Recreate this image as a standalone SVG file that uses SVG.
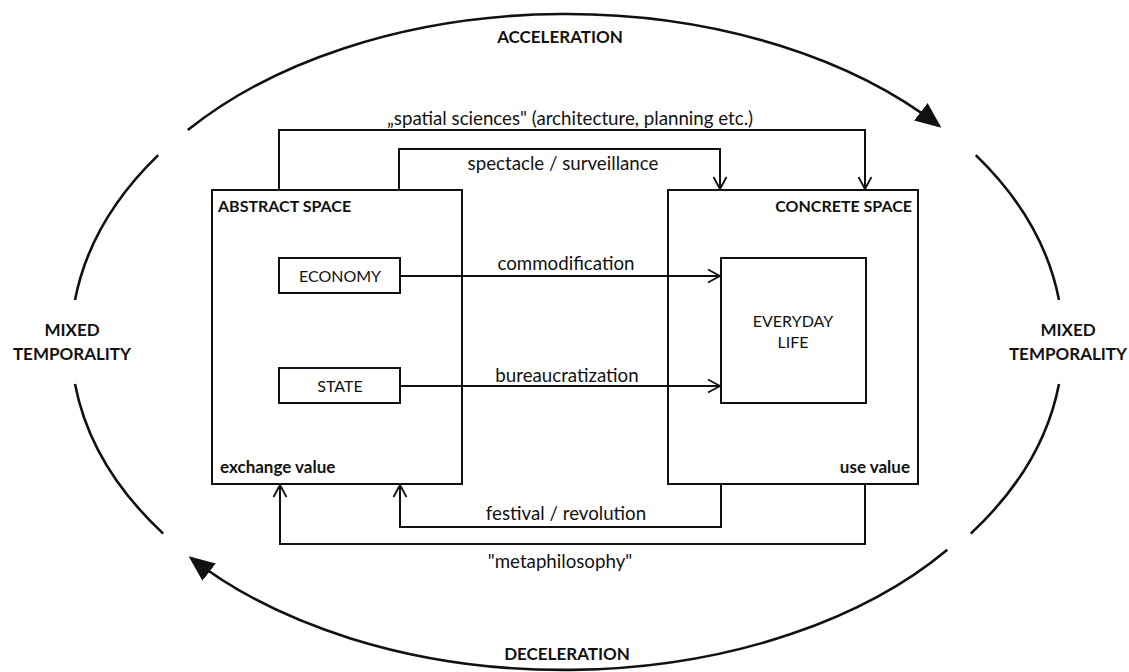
<svg xmlns="http://www.w3.org/2000/svg" width="1129" height="672" viewBox="0 0 1129 672">
<style>
  text { font-family: Lato, "Open Sans", "Liberation Sans", sans-serif; fill: #111; font-size: 17px; }
  .b { font-weight: bold; }
  .h { font-size: 16px; }
  .n { font-size: 16px; }
  .l { font-size: 18.7px; }
  .m { text-anchor: middle; }
  .e { text-anchor: end; }
  .box { fill: #fff; stroke: #111; stroke-width: 2; }
  .con { fill: none; stroke: #111; stroke-width: 2; }
  .arc { fill: none; stroke: #111; stroke-width: 2.6; }
</style>
<defs>
  <marker id="open" markerUnits="userSpaceOnUse" markerWidth="16" markerHeight="16" viewBox="0 0 16 16" refX="14" refY="8" orient="auto">
    <path d="M2,1.5 L14,8 L2,14.5" fill="none" stroke="#111" stroke-width="1.8"/>
  </marker>
  <marker id="big" markerUnits="userSpaceOnUse" markerWidth="27" markerHeight="25" viewBox="0 0 27 25" refX="23" refY="12.5" orient="auto">
    <path d="M0,1.5 L26,12.5 L0,23.5 z" fill="#111"/>
  </marker>
</defs>
<rect width="1129" height="672" fill="#fff"/>

<g id="cycle">
  <path class="arc" d="M187.8,130.1 A480,302 0 0 1 939,125.9" marker-end="url(#big)"/>
  <path class="arc" d="M947.3,549.7 A480,302 0 0 1 191,558" marker-end="url(#big)"/>
  <path class="arc" d="M158.2,155.1 A496,330 0 0 0 75,300.1"/>
  <path class="arc" d="M75,383.9 A496,330 0 0 0 163.2,533.6"/>
  <path class="arc" d="M975.8,155.1 A496,330 0 0 1 1059,300.1"/>
  <path class="arc" d="M1059,383.9 A496,330 0 0 1 970.8,533.6"/>
  <text class="b m" x="560" y="43">ACCELERATION</text>
  <text class="b m" x="567" y="660">DECELERATION</text>
  <text class="b m" x="72" y="336">MIXED</text>
  <text class="b m" x="72" y="360">TEMPORALITY</text>
  <text class="b m" x="1068" y="336">MIXED</text>
  <text class="b m" x="1068" y="360">TEMPORALITY</text>
</g>

<g id="abstract-space">
  <rect class="box" x="212" y="190" width="250" height="294"/>
  <text class="b h" x="218" y="212">ABSTRACT SPACE</text>
  <text class="b" x="220" y="473">exchange value</text>
</g>
<g id="economy">
  <rect class="box" x="279" y="258" width="121" height="35"/>
  <text class="m n" x="340" y="282">ECONOMY</text>
</g>
<g id="state">
  <rect class="box" x="279" y="368" width="121" height="35"/>
  <text class="m n" x="340" y="392">STATE</text>
</g>

<g id="concrete-space">
  <rect class="box" x="668" y="190" width="250" height="294"/>
  <text class="b e h" x="912" y="212">CONCRETE SPACE</text>
  <text class="b e" x="910" y="473">use value</text>
</g>
<g id="everyday-life">
  <rect class="box" x="721" y="258" width="145" height="145"/>
  <text class="m n" x="793" y="327">EVERYDAY</text>
  <text class="m n" x="793" y="348">LIFE</text>
</g>

<g id="connectors">
  <path class="con" d="M279,190 V130 H865 V189" marker-end="url(#open)"/>
  <path class="con" d="M399,190 V149 H720 V189" marker-end="url(#open)"/>
  <path class="con" d="M400,276 H720" marker-end="url(#open)"/>
  <path class="con" d="M400,386 H720" marker-end="url(#open)"/>
  <path class="con" d="M721,484 V527 H400 V485" marker-end="url(#open)"/>
  <path class="con" d="M865,484 V544 H280 V485" marker-end="url(#open)"/>
  <text class="m l" x="570" y="125">„spatial sciences" (architecture, planning etc.)</text>
  <text class="m l" x="563" y="170">spectacle / surveillance</text>
  <text class="m l" x="566" y="270">commodification</text>
  <text class="m l" x="567" y="382">bureaucratization</text>
  <text class="m l" x="566" y="520">festival / revolution</text>
  <text class="m l" x="560" y="568">"metaphilosophy"</text>
</g>
</svg>
